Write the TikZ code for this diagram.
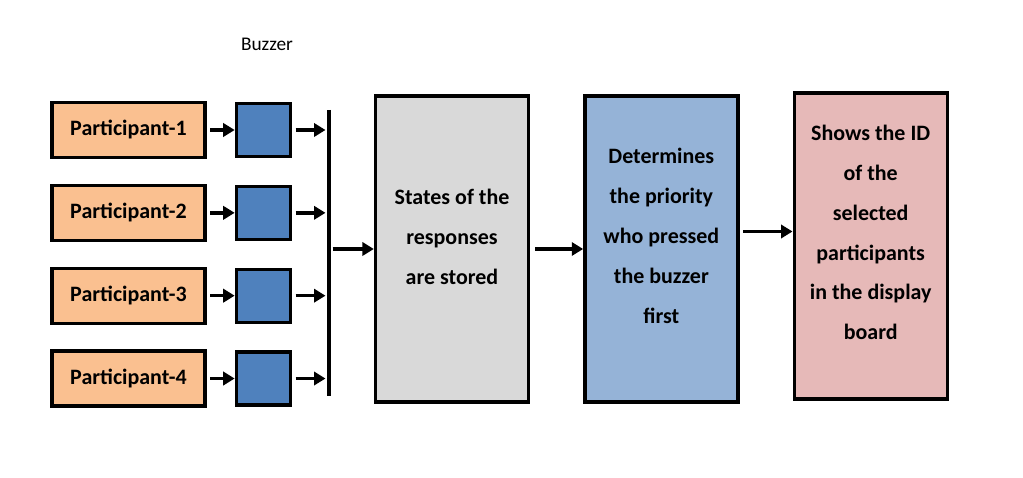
\documentclass[tikz,border=0pt]{standalone}
\usepackage{fontspec}
\setmainfont{Carlito}
\usetikzlibrary{arrows.meta,positioning}

\definecolor{partorange}{HTML}{FAC090}
\definecolor{buzzblue}{HTML}{4F81BD}
\definecolor{storegray}{HTML}{D9D9D9}
\definecolor{prioblue}{HTML}{95B3D7}
\definecolor{showpink}{HTML}{E6B9B8}

\begin{document}
\begin{tikzpicture}[
        >={Triangle[length=6.5pt,width=7.5pt]},
        line width=1.9pt,
        every node/.style={font=\fontsize{12.5}{22.7}\selectfont\bfseries, align=center},
        participant/.style={draw, fill=partorange, minimum width=3.06cm, minimum height=1.1cm, inner sep=0pt},
        buzzer/.style={draw, fill=buzzblue, minimum width=1.08cm, minimum height=1.06cm, inner sep=0pt},
        stage/.style={draw, minimum width=3.06cm, minimum height=6.12cm, inner sep=0pt},
        node distance=0.49cm and 0.56cm
        ]
        \useasboundingbox (0,0) rectangle (20.46,-9.56);

        % Participants with their buzzers
        \node[participant] (p1) at (2.57,-2.6) {Participant-1};
        \node[participant, below=of p1] (p2) {Participant-2};
        \node[participant, below=of p2] (p3) {Participant-3};
        \node[participant, below=of p3] (p4) {Participant-4};
        \node[buzzer, right=of p1] (b1) {};
        \node[buzzer, right=of p2] (b2) {};
        \node[buzzer, right=of p3] (b3) {};
        \node[buzzer, right=of p4] (b4) {};
        \node[font=\fontsize{11}{13}\selectfont] (buzzlabel) at (5.34,-0.88) {Buzzer};

        % Common line
        \coordinate (bustop) at (6.58,-2.2);
        \coordinate (busbot) at (6.58,-7.92);
        \draw (bustop) -- (busbot);

        % Processing blocks
        \node[stage, fill=storegray] (store) at (9.04,-4.98) {};
        \node[stage, fill=prioblue, right=1.06cm of store] (prio) {};
        \node[stage, fill=showpink, right=1.06cm of prio, yshift=0.06cm] (show) {};
        \node (storetext) at ([yshift=0.24cm]store.center) {States of the\\responses\\are stored};
        \node (priotext) at ([yshift=0.26cm]prio.center) {Determines\\the priority\\who pressed\\the buzzer\\first};
        \node (showtext) at ([yshift=0.27cm]show.center) {Shows the ID\\of the\\selected\\participants\\in the display\\board};

        % Arrows
        \draw[->, shorten <=2pt] (p1) -- (b1);
        \draw[->, shorten <=2pt] (p2) -- (b2);
        \draw[->, shorten <=2pt] (p3) -- (b3);
        \draw[->, shorten <=2pt] (p4) -- (b4);
        \draw[->, shorten <=2pt, shorten >=2pt] (b1.east) -- (b1.east -| bustop);
        \draw[->, shorten <=2pt, shorten >=2pt] (b2.east) -- (b2.east -| bustop);
        \draw[->, shorten <=2pt, shorten >=2pt] (b3.east) -- (b3.east -| bustop);
        \draw[->, shorten <=2pt, shorten >=2pt] (b4.east) -- (b4.east -| bustop);
        \draw[->, shorten <=2pt] (store.west -| bustop) -- (store.west);
        \draw[->, shorten <=3pt] (store) -- (prio);
        \draw[->, shorten <=2pt] ([yshift=0.35cm]prio.east) -- ([yshift=0.35cm]prio.east -| show.west);
      \end{tikzpicture}
\end{document}
